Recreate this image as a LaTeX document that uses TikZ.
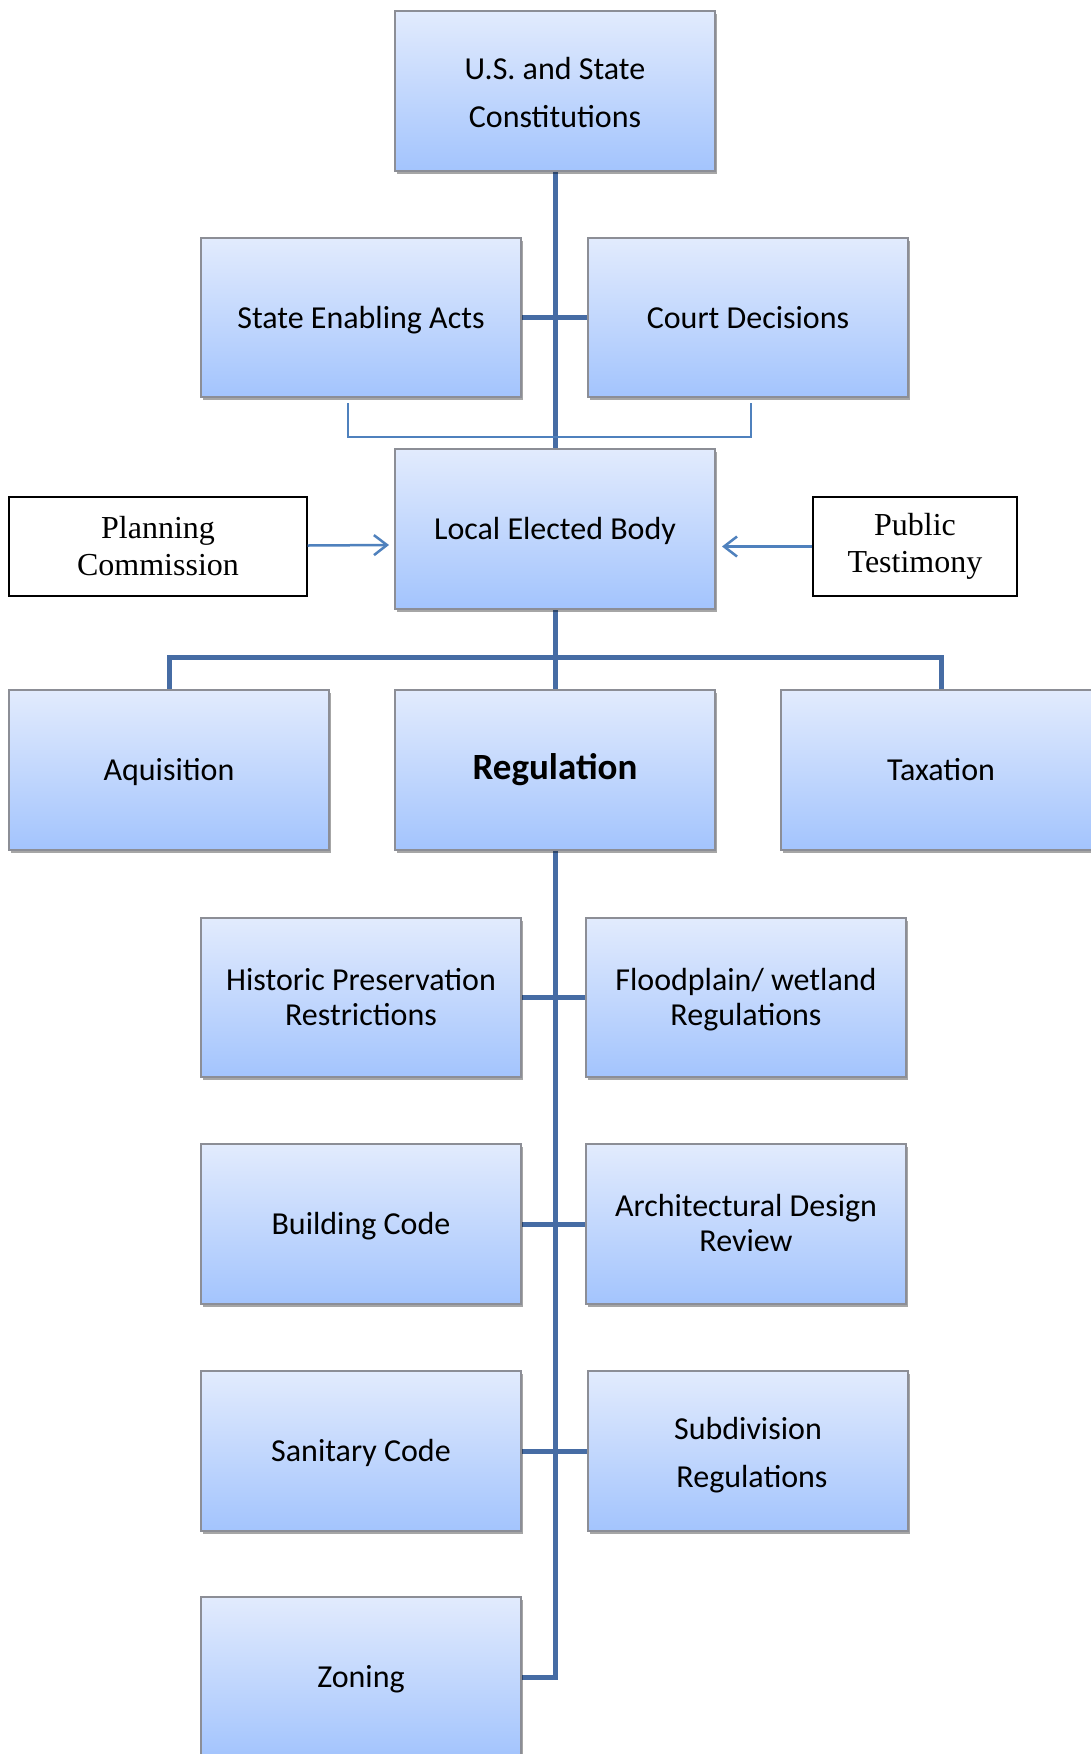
\documentclass[tikz,border=0pt]{standalone}
\usepackage{fontspec}
\setmainfont{Carlito}
\newfontfamily\timesfont{Liberation Serif}
\usetikzlibrary{arrows.meta,shadows,backgrounds}
\definecolor{conn}{RGB}{70,108,164}
\definecolor{thinc}{RGB}{79,129,189}
\definecolor{boxtop}{RGB}{226,235,253}
\definecolor{boxbot}{RGB}{163,196,253}
\definecolor{boxedge}{RGB}{140,142,150}
\newcommand\firstlinestrut{\rule{0pt}{30.5pt}}
\newcommand\widefirststrut{\rule{0pt}{40.3pt}}
\begin{document}
\begin{tikzpicture}[x=1pt,y=-1pt,
 bluebox/.style={rectangle, minimum width=320pt, minimum height=160pt, inner sep=0pt,
   top color=boxtop, bottom color=boxbot, draw=boxedge, line width=1.2pt, align=center,
   font=\fontsize{32}{35}\selectfont,
   execute at begin node={\rule{0pt}{31.5pt}}, execute at end node={\strut},
   drop shadow={shadow xshift=1.5pt, shadow yshift=-3pt, opacity=0.35, fill=black}},
 widelines/.style={font=\fontsize{32}{48}\selectfont},
 whitebox/.style={rectangle, draw=black, line width=1.3pt, fill=white, inner sep=0pt,
   minimum height=99pt, align=center, font=\timesfont\fontsize{32}{37}\selectfont},
 trunk/.style={draw=conn, line width=5pt},
 feed/.style={draw=thinc, line width=2.5pt},
 feedarrow/.style={feed, -{Straight Barb[length=13pt,width=20pt,line width=2.5pt]}},
]
\useasboundingbox (0,0) rectangle (1091,1754);

\node[bluebox, widelines] (top) at (555,91) {\widefirststrut U.S. and State\\Constitutions};
\node[bluebox, minimum height=159pt] (sea) at (361,317.5) {State Enabling Acts};
\node[bluebox, minimum height=159pt] (court) at (748,317.5) {Court Decisions};
\node[bluebox] (leb) at (555,529) {Local Elected Body};
\node[whitebox, minimum width=298pt] (plan) at (158,546.5) {Planning\\Commission};
\node[whitebox, minimum width=204pt] (pub) at (915,546.5) {Public\\Testimony};

\node[bluebox] (aqu) at (169,770) {Aquisition};
\node[bluebox, font=\bfseries\fontsize{37}{40}\selectfont] (reg) at (555,770) {Regulation};
\node[bluebox] (tax) at (941,770) {Taxation};

\node[bluebox, minimum height=159pt] (hist) at (361,997.5) {\firstlinestrut Historic Preservation\\Restrictions};
\node[bluebox, minimum height=159pt] (flood) at (746,997.5) {\firstlinestrut Floodplain/ wetland\\Regulations};
\node[bluebox] (bldg) at (361,1224) {Building Code};
\node[bluebox] (arch) at (746,1224) {\firstlinestrut Architectural Design\\Review};
\node[bluebox] (san) at (361,1451) {Sanitary Code};
\node[bluebox, widelines] (sub) at (748,1451) {\widefirststrut Subdivision\\\hspace*{8pt}Regulations};
\node[bluebox] (zon) at (361,1677) {Zoning};

\coordinate (bus) at (555,657);
\coordinate (bl) at (348,403);
\coordinate (br) at (751,403);
\coordinate (pa) at (389,545);
\coordinate (pb) at (722,546.5);

\begin{scope}[on background layer]
\fill[white] (0,0) rectangle (1091,1754);
\draw[trunk] (top.south) -- (leb.north);
\draw[trunk] (sea.east) -- (court.west);
\draw[trunk] (leb.south) -- (reg.north);
\draw[trunk] (aqu.north) |- (bus) -| (tax.north);
\draw[trunk] (reg.south) |- (zon.east);
\draw[trunk] (hist.east) -- (flood.west);
\draw[trunk] (bldg.east) -- (arch.west);
\draw[trunk] (san.east) -- (sub.west);
\draw[feed] (bl) -- ++(0,34) -| (br);
\end{scope}

\draw[feedarrow] ([yshift=1pt]plan.east) -- (pa);
\draw[feedarrow] (pub.west) -- (pb);
\end{tikzpicture}
\end{document}
